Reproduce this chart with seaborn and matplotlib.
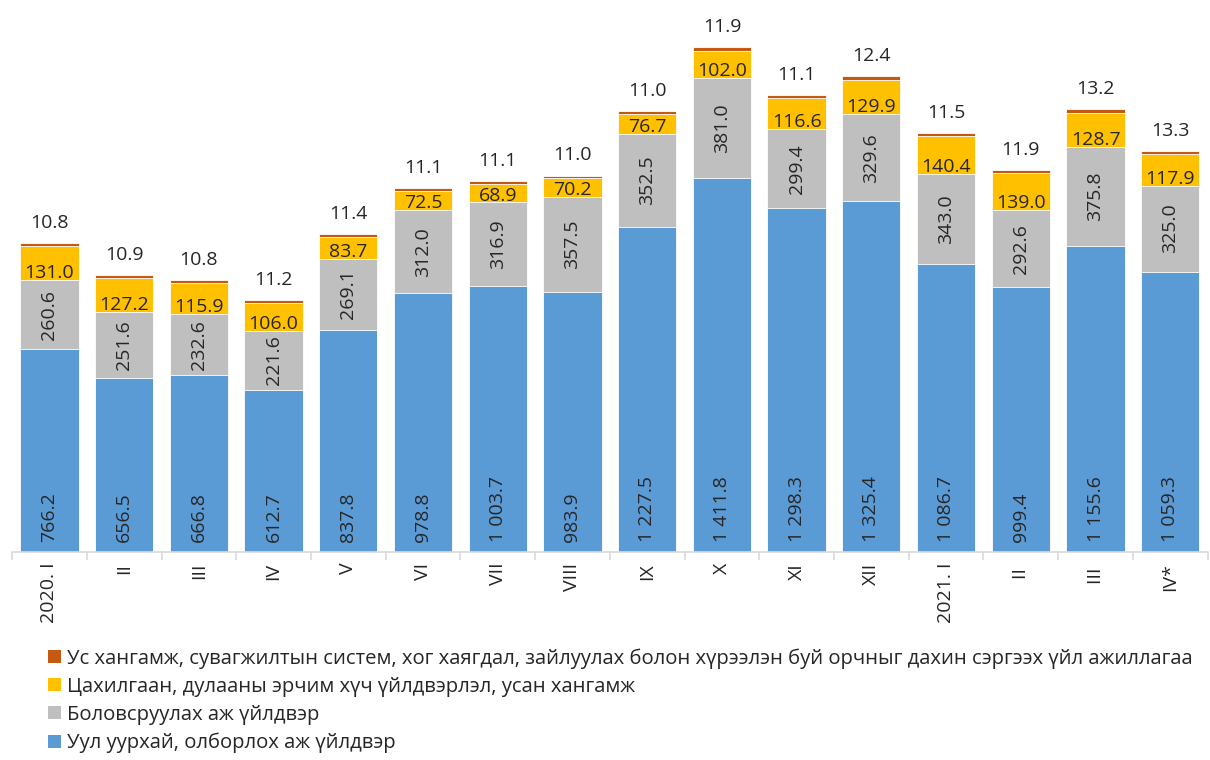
import numpy as np
import pandas as pd
import matplotlib
matplotlib.use("Agg")
import matplotlib.pyplot as plt
from matplotlib.patches import Patch
import seaborn as sns

periods = ["2020. I", "II", "III", "IV", "V", "VI", "VII", "VIII", "IX", "X",
           "XI", "XII", "2021. I", "II ", "III ", "IV*"]
mining = [766.2, 656.5, 666.8, 612.7, 837.8, 978.8, 1003.7, 983.9, 1227.5, 1411.8,
          1298.3, 1325.4, 1086.7, 999.4, 1155.6, 1059.3]
manufacturing = [260.6, 251.6, 232.6, 221.6, 269.1, 312.0, 316.9, 357.5, 352.5, 381.0,
                 299.4, 329.6, 343.0, 292.6, 375.8, 325.0]
energy = [131.0, 127.2, 115.9, 106.0, 83.7, 72.5, 68.9, 70.2, 76.7, 102.0,
          116.6, 129.9, 140.4, 139.0, 128.7, 117.9]
water = [10.8, 10.9, 10.8, 11.2, 11.4, 11.1, 11.1, 11.0, 11.0, 11.9,
         11.1, 12.4, 11.5, 11.9, 13.2, 13.3]

series_names = [
    "Уул уурхай, олборлох аж үйлдвэр",
    "Боловсруулах аж үйлдвэр",
    "Цахилгаан, дулааны эрчим хүч үйлдвэрлэл, усан хангамж",
    "Ус хангамж, сувагжилтын систем, хог хаягдал, зайлуулах болон хүрээлэн буй орчныг дахин сэргээх үйл ажиллагаа",
]
colors = ["#5B9BD5", "#BFBFBF", "#FFC000", "#C65911"]

sns.set_style("white")
plt.rcParams["font.family"] = ["Open Sans", "DejaVu Sans"]


def fmt(v):
    s = f"{v:,.1f}"
    return s.replace(",", " ")


df = pd.DataFrame({"period": periods, "mining": mining, "manuf": manufacturing,
                   "energy": energy, "water": water})
df["c1"] = df["mining"]
df["c2"] = df["c1"] + df["manuf"]
df["c3"] = df["c2"] + df["energy"]
df["c4"] = df["c3"] + df["water"]

fig = plt.figure(figsize=(12.1, 7.6), dpi=100)
ax = fig.add_axes([0.010, 0.274, 0.988, 0.696])

# stacked bars drawn from the tallest cumulative layer down
for col, c in zip(["c4", "c3", "c2", "c1"], colors[::-1]):
    sns.barplot(data=df, x="period", y=col, color=c, saturation=1, width=0.78,
                edgecolor="white", linewidth=0.6, ax=ax)

fs = 14
for i, row in df.iterrows():
    # blue: inside base, rotated
    ax.annotate(fmt(row["mining"]), (i, 0), xytext=(0, 7), textcoords="offset points",
                rotation=90, ha="center", va="bottom", fontsize=fs, color="#262626")
    # gray: centered, rotated
    ax.text(i, (row["c1"] + row["c2"]) / 2, fmt(row["manuf"]), rotation=90,
            ha="center", va="center", fontsize=fs, color="#262626")
    # yellow: near base, horizontal
    ax.annotate(fmt(row["energy"]), (i, row["c2"]), xytext=(0, 5), textcoords="offset points",
                ha="center", va="center", fontsize=fs, color="#262626")
    # orange: above the bar
    ax.annotate(fmt(row["water"]), (i, row["c4"]), xytext=(0, 8), textcoords="offset points",
                ha="center", va="bottom", fontsize=fs, color="#262626")

ax.set_xlim(-0.5, len(periods) - 0.5)
ax.set_ylim(0, 2000)
ax.set_xlabel("")
ax.set_ylabel("")
ax.set_yticks([])
for s in ["top", "right", "left"]:
    ax.spines[s].set_visible(False)
ax.spines["bottom"].set_color("#D9D9D9")
ax.spines["bottom"].set_linewidth(1.2)

ax.set_xticks(np.arange(len(periods)))
ax.set_xticklabels(periods, rotation=90, fontsize=fs, color="#262626", va="top")
ax.tick_params(axis="x", which="major", length=0, pad=8)
ax.set_xticks(np.arange(len(periods) + 1) - 0.5, minor=True)
ax.tick_params(axis="x", which="minor", length=6, width=1.2, color="#D9D9D9", bottom=True)

handles = [Patch(facecolor=c, edgecolor="none") for c in colors[::-1]]
fig.legend(handles, series_names[::-1], loc="lower left", bbox_to_anchor=(0.033, -0.002),
           frameon=False, fontsize=14.6, handlelength=0.65, handleheight=0.65,
           handletextpad=0.3, labelspacing=0.4, borderaxespad=0)

fig.savefig("out.png", dpi=100)
